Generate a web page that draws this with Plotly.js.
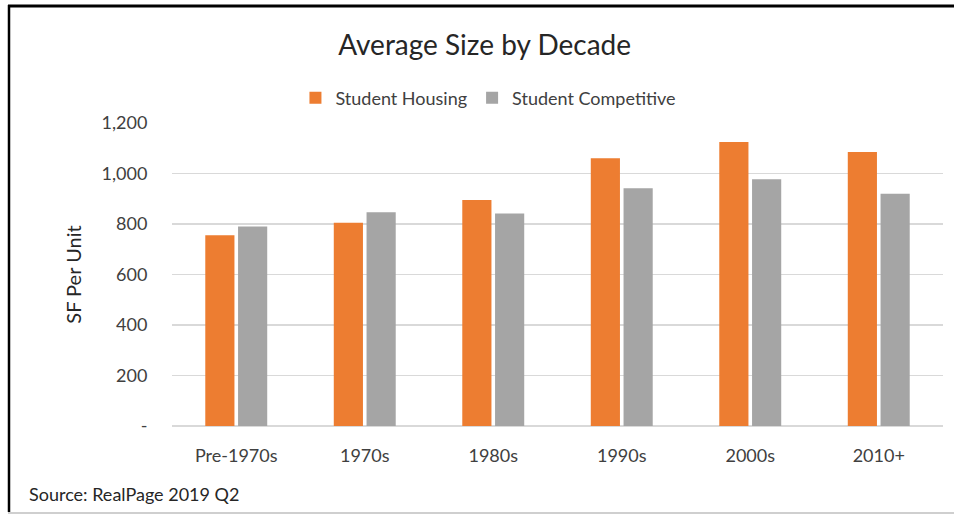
<!DOCTYPE html>
<html>
<head>
<meta charset="utf-8">
<script src="https://cdn.plot.ly/plotly-3.0.1.min.js"></script>
<style>html,body{margin:0;padding:0;background:#fff;}#chart{width:954px;height:514px;}</style>
</head>
<body>
<div id="chart"></div>
<script>
const categories = ["Pre-1970s", "1970s", "1980s", "1990s", "2000s", "2010+"];
const studentHousing = [755, 805, 895, 1060, 1125, 1085];
const studentCompetitive = [790, 847, 842, 942, 977, 920];
const yTickVals = [0, 200, 400, 600, 800, 1000, 1200];
const yTickText = ["-", "200", "400", "600", "800", "1,000", "1,200"];

const FONT = "Lato, 'Open Sans', sans-serif";

const traces = [
  {type: "bar", name: "Student Housing", x: categories, y: studentHousing,
   marker: {color: "#ED7D31"}, hoverinfo: "x+y"},
  {type: "bar", name: "Student Competitive", x: categories, y: studentCompetitive,
   marker: {color: "#A5A5A5"}, hoverinfo: "x+y"}
];

const layout = {
  width: 954, height: 514,
  paper_bgcolor: "#fff", plot_bgcolor: "#fff",
  margin: {l: 172, r: 11, t: 123, b: 88},
  font: {family: FONT, color: "#595959", size: 18},
  barmode: "group", bargap: 0.49, bargroupgap: 0.11,
  title: {text: "Average Size by Decade", font: {family: FONT, size: 28, color: "#262626"},
          xref: "container", yref: "container", x: 0.508, y: 1 - 45/514, xanchor: "center", yanchor: "middle"},
  showlegend: true,
  legend: {orientation: "h", xref: "container", yref: "container", x: 0.512, y: 1 - 98/514,
           xanchor: "center", yanchor: "middle", font: {family: FONT, size: 18, color: "#404040"},
           itemwidth: 30, traceorder: "normal"},
  xaxis: {type: "category", showgrid: false, showline: false, zeroline: false,
          ticks: "outside", ticklen: 13, tickcolor: "rgba(0,0,0,0)",
          tickfont: {family: FONT, size: 18, color: "#404040"}, fixedrange: true},
  yaxis: {range: [0, 1200], tickvals: yTickVals, ticktext: yTickText,
          showgrid: true, gridcolor: "#D9D9D9", gridwidth: 1.5,
          zeroline: true, zerolinecolor: "#D9D9D9", zerolinewidth: 1.5,
          ticks: "outside", ticklen: 20, tickcolor: "rgba(0,0,0,0)",
          tickfont: {family: FONT, size: 18, color: "#404040"},
          title: {text: "SF Per Unit", font: {family: FONT, size: 20, color: "#262626"}, standoff: 14},
          automargin: false, fixedrange: true},
  annotations: [
    {text: "Source: RealPage 2019 Q2", xref: "paper", yref: "paper",
     x: (27 - 172) / 771, y: (426 - 494) / 303, xanchor: "left", yanchor: "middle",
     showarrow: false, font: {family: FONT, size: 18, color: "#262626"}}
  ],
  shapes: [
    {type: "line", xref: "paper", yref: "paper", x0: (8-172)/771, x1: (954-172)/771, y0: (426-6)/303, y1: (426-6)/303,
     line: {color: "#000", width: 3}},
    {type: "line", xref: "paper", yref: "paper", x0: (9-172)/771, x1: (9-172)/771, y0: (426-5)/303, y1: (426-512)/303,
     line: {color: "#000", width: 2.5}},
    {type: "line", xref: "paper", yref: "paper", x0: (8-172)/771, x1: (954-172)/771, y0: (426-513)/303, y1: (426-513)/303,
     line: {color: "#BFBFBF", width: 1.5}}
  ]
};

Plotly.newPlot("chart", traces, layout, {displayModeBar: false, staticPlot: true});
</script>
</body>
</html>
